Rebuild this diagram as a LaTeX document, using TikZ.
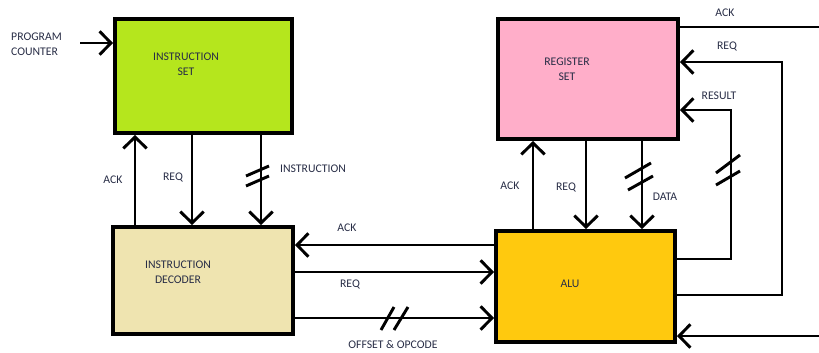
\documentclass[tikz,border=0pt]{standalone}
\usepackage{fontspec}
\setmainfont{Carlito}
\usetikzlibrary{arrows.meta}

\definecolor{isgreen}{RGB}{181,230,29}
\definecolor{decbeige}{RGB}{239,228,176}
\definecolor{rspink}{RGB}{255,174,201}
\definecolor{alugold}{RGB}{255,201,14}
\definecolor{lbltext}{RGB}{40,45,70}

\tikzset{
  block/.style={draw=black,line width=3.4pt,inner sep=0pt},
  wire/.style={line width=2.5pt},
  arr/.style={wire,-{Straight Barb[length=0.34cm,width=0.7cm]}},
  lbl/.style={text=lbltext,font=\fontsize{10}{12.8}\selectfont,align=center,inner sep=0pt},
}

\begin{document}
\begin{tikzpicture}[x=0.03cm,y=-0.03cm]
  \useasboundingbox (0,0) rectangle (819,352);

  % Blocks
  \node[block,fill=isgreen,minimum width=5.31cm,minimum height=3.42cm] (is) at (203.5,76) {};
  \node[block,fill=decbeige,minimum width=5.4cm,minimum height=3.21cm] (idec) at (203,280.5) {};
  \node[block,fill=rspink,minimum width=5.4cm,minimum height=3.6cm] (rs) at (588,79) {};
  \node[block,fill=alugold,minimum width=5.37cm,minimum height=3.33cm] (alu) at (585.5,286.5) {};

  \node[lbl] (islbl) at (186,64) {INSTRUCTION\\SET};
  \node[lbl] (ideclbl) at (178,272) {INSTRUCTION\\DECODER};
  \node[lbl] (rslbl) at (567,69) {REGISTER\\SET};
  \node[lbl] (alulbl) at (570,284) {ALU};

  % Free ends
  \coordinate (pcin) at (80,43);
  \coordinate (ackout) at (819,27);
  \coordinate (reqturn) at (782,62);
  \coordinate (resturn) at (731,110);
  \coordinate (botin) at (819,336);

  % Program counter
  \node[lbl,align=left,anchor=west] (pc) at (11,44) {PROGRAM\\COUNTER};
  \draw[arr] (pcin) -- (is.west |- pcin);

  % Instruction set <-> decoder
  \draw[arr] (idec.north -| 135,0) -- (is.south -| 135,0);
  \draw[arr] (is.south -| 192,0) -- (idec.north -| 192,0);
  \draw[arr] (is.south -| 261,0) -- (idec.north -| 261,0);
  \draw[wire] (246,176) -- (269,166);
  \draw[wire] (246,186) -- (269,176);
  \node[lbl] (ack1) at (113,180) {ACK};
  \node[lbl] (req1) at (173,177) {REQ};
  \node[lbl] (instr) at (313,169) {INSTRUCTION};

  % Decoder <-> ALU
  \draw[arr] (alu.west |- 0,245) -- (idec.east |- 0,245);
  \draw[arr] (idec.east |- 0,272) -- (alu.west |- 0,272);
  \draw[arr] (idec.east |- 0,318) -- (alu.west |- 0,318);
  \draw[wire] (381,330) -- (394,307);
  \draw[wire] (394,330) -- (408,307);
  \node[lbl] (ack2) at (347,228) {ACK};
  \node[lbl] (req2) at (350,284) {REQ};
  \node[lbl] (offop) at (393,345) {OFFSET \& OPCODE};

  % Register set <-> ALU
  \draw[arr] (alu.north -| 533,0) -- (rs.south -| 533,0);
  \draw[arr] (rs.south -| 586,0) -- (alu.north -| 586,0);
  \draw[arr] (rs.south -| 642,0) -- (alu.north -| 642,0);
  \draw[wire] (625,178) -- (651,163);
  \draw[wire] (628,190) -- (653,176);
  \node[lbl] (ack3) at (510,186) {ACK};
  \node[lbl] (req3) at (566,187) {REQ};
  \node[lbl] (data) at (665,197) {DATA};

  % Right side
  \draw[wire] (rs.east |- ackout) -- (ackout);
  \draw[arr] (alu.east |- 0,295) -| (reqturn) -- (rs.east |- reqturn);
  \draw[arr] (alu.east |- 0,259) -| (resturn) -- (rs.east |- resturn);
  \draw[wire] (716,173) -- (740,155);
  \draw[wire] (716,185) -- (740,171);
  \draw[arr] (botin) -- (alu.east |- botin);
  \node[lbl] (ack4) at (725,13) {ACK};
  \node[lbl] (req4) at (727,46) {REQ};
  \node[lbl] (result) at (719,96) {RESULT};
\end{tikzpicture}
\end{document}
